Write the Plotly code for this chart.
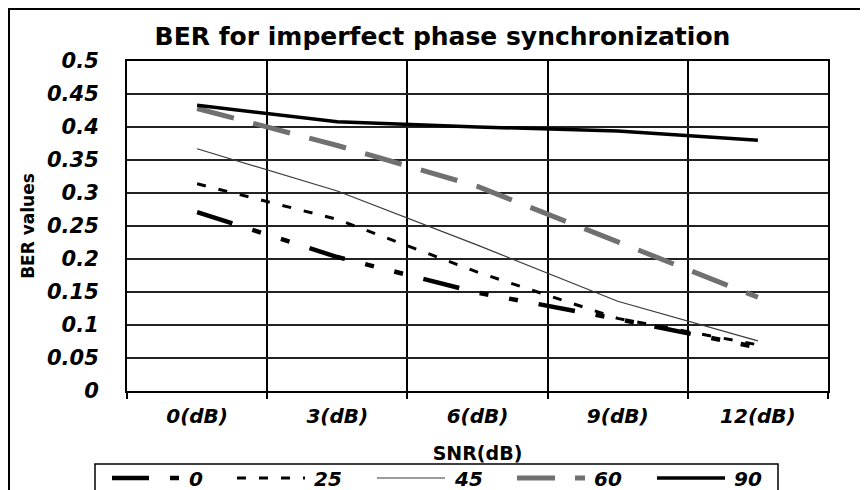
import plotly.graph_objects as go

# ---- data ----
snr_labels = ["0(dB)", "3(dB)", "6(dB)", "9(dB)", "12(dB)"]
series_names = ["0", "25", "45", "60", "90"]
ber_0 = [0.271, 0.203, 0.149, 0.109, 0.066]
ber_25 = [0.314, 0.260, 0.180, 0.110, 0.070]
ber_45 = [0.367, 0.303, 0.221, 0.136, 0.076]
ber_60 = [0.428, 0.372, 0.310, 0.226, 0.142]
ber_90 = [0.433, 0.408, 0.400, 0.394, 0.380]
y_ticks = [0, 0.05, 0.1, 0.15, 0.2, 0.25, 0.3, 0.35, 0.4, 0.45, 0.5]

series_values = [ber_0, ber_25, ber_45, ber_60, ber_90]
styles = [
    dict(color="#000000", width=4.5, dash="37px,21px,9px,21px,9px,21px"),
    dict(color="#000000", width=3, dash="9px,13px"),
    dict(color="#3a3a3a", width=1.2, dash="solid"),
    dict(color="#707070", width=5, dash="38px,20px"),
    dict(color="#000000", width=3.5, dash="solid"),
]

OFF = 8  # browser body margin: page pixel = figure pixel + 8
W, H = 868 - OFF, 490 - OFF
# plot area in page pixels
L, R, T, B = 127, 828, 61, 391


def px(x):
    return (x - L) / (R - L)


def py(y):
    return (B - y) / (B - T)


fig = go.Figure()
for name, vals, st in zip(series_names, series_values, styles):
    fig.add_trace(go.Scatter(x=snr_labels, y=vals, mode="lines", name=name,
                             line=st, showlegend=False))

xtickfont = dict(family="DejaVu Sans", size=20, color="black", weight="bold", style="italic")
ytickfont = dict(family="DejaVu Sans", size=21, color="black", weight="bold", style="italic")

fig.update_layout(
    width=W, height=H,
    margin=dict(l=L - OFF, r=868 - R, t=T - OFF, b=490 - B, autoexpand=False),
    paper_bgcolor="white", plot_bgcolor="white",
    title=dict(text="BER for imperfect phase synchronization",
               font=dict(family="DejaVu Sans", size=25, color="black", weight="bold"),
               x=(442.5 - OFF) / W, xref="container", xanchor="center",
               y=1 - (36 - OFF) / H, yref="container", yanchor="middle"),
    xaxis=dict(type="category", tickson="boundaries", range=[-0.5, 4.5],
               showgrid=True, gridcolor="black", gridwidth=2,
               ticks="outside", ticklen=6, tickwidth=2, tickcolor="black",
               showline=True, linecolor="black", linewidth=2, mirror=True,
               tickfont=xtickfont, ticklabelstandoff=6, automargin=False,
               title=dict(text="SNR(dB)", standoff=20,
                          font=dict(family="DejaVu Sans", size=19, color="black", weight="bold"))),
    yaxis=dict(range=[0, 0.5], tickvals=y_ticks, showgrid=True,
               gridcolor="#222222", gridwidth=1.5,
               showline=True, linecolor="black", linewidth=2, mirror=True,
               zeroline=False, ticks="outside", ticklen=22, tickcolor="rgba(0,0,0,0)",
               tickfont=ytickfont, automargin=False,
               title=dict(text="BER values", standoff=8,
                          font=dict(family="DejaVu Sans", size=17, color="black", weight="bold"))),
)

shapes = []
annotations = []
# outer chart border (top-left corner visible, rest runs off the page)
shapes.append(dict(type="rect", xref="paper", yref="paper",
                   x0=px(OFF + 1), x1=px(900), y0=py(520), y1=py(OFF + 1),
                   line=dict(color="black", width=2), fillcolor="rgba(0,0,0,0)", layer="below"))
# legend box
shapes.append(dict(type="rect", xref="paper", yref="paper",
                   x0=px(95), x1=px(778), y0=py(520), y1=py(464),
                   line=dict(color="black", width=1.5), fillcolor="rgba(0,0,0,0)"))
legend_x = [112, 237, 377, 517, 657]
for name, st, x0 in zip(series_names, styles, legend_x):
    shapes.append(dict(type="line", xref="paper", yref="paper",
                       x0=px(x0), x1=px(x0 + 68), y0=py(478), y1=py(478),
                       line=dict(color=st["color"], width=st["width"], dash=st["dash"])))
    annotations.append(dict(text=name, xref="paper", yref="paper",
                            x=px(x0 + 75), y=py(479), xanchor="left", yanchor="middle",
                            showarrow=False,
                            font=dict(family="DejaVu Sans", size=20, color="black",
                                      weight="bold", style="italic")))
fig.update_layout(shapes=shapes, annotations=annotations)

fig.write_html("out.html")
